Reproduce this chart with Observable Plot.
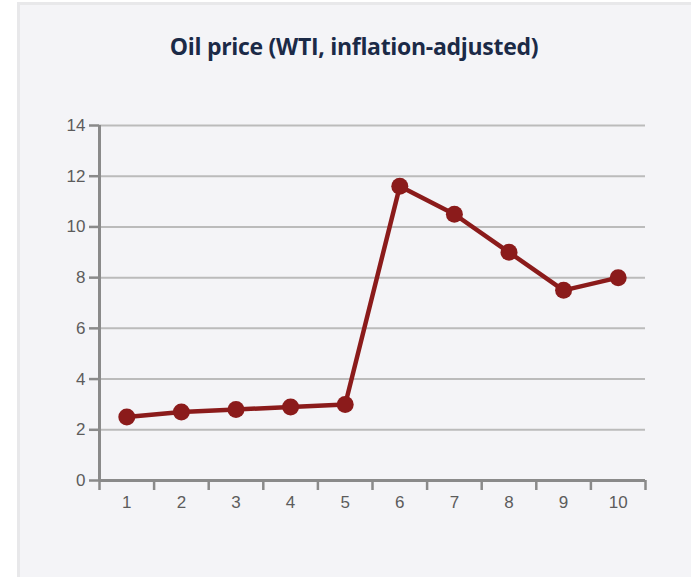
<!DOCTYPE html>
<html><head><meta charset="utf-8">
<script src="https://cdn.jsdelivr.net/npm/d3@7"></script>
<script src="https://cdn.jsdelivr.net/npm/@observablehq/plot@0.6"></script>
<style>
html,body{margin:0;padding:0;background:#fff;overflow:hidden;width:691px;height:577px;}
#panel{position:absolute;left:17px;top:2px;width:690px;height:600px;background:#f4f4f7;border:3px solid #e8e8ea;box-sizing:border-box;}
#title{position:absolute;left:17px;width:674px;top:30px;text-align:center;font:bold 23px 'Open Sans', sans-serif;color:#1b2a47;letter-spacing:-0.3px;}
#chart{position:absolute;left:0;top:80px;}
</style>
</head><body>
<div id="panel"></div>
<div id="title">Oil price (WTI, inflation-adjusted)</div>
<div id="chart"></div>
<script>
const periods = [1, 2, 3, 4, 5, 6, 7, 8, 9, 10];
const prices = [2.5, 2.7, 2.8, 2.9, 3.0, 11.6, 10.5, 9.0, 7.5, 8.0];
const yTicks = [0, 2, 4, 6, 8, 10, 12, 14];
const xBoundaries = [0.5, 1.5, 2.5, 3.5, 4.5, 5.5, 6.5, 7.5, 8.5, 9.5, 10.5];

const data = periods.map((p, i) => ({period: p, price: prices[i]}));
const axisGrey = "#8a8a8a";
const labelGrey = "#5c5c5c";
const red = "#8b1b1b";

const chart = Plot.plot({
  width: 691,
  height: 460,
  marginLeft: 99,
  marginRight: 46,
  marginTop: 45,
  marginBottom: 60,
  style: {background: "transparent", fontFamily: "'Liberation Sans', Arial, sans-serif", fontSize: "17px", overflow: "visible"},
  x: {type: "linear", domain: [0.5, 10.5], label: null},
  y: {domain: [0, 14], label: null},
  marks: [
    Plot.gridY(yTicks.filter(d => d > 0), {stroke: "#bbbbbb", strokeOpacity: 1, strokeWidth: 2}),
    Plot.axisY(yTicks, {tickSize: 10, text: null, label: null, stroke: axisGrey, strokeWidth: 2.5}),
    Plot.axisY(yTicks, {tickSize: 0, tickPadding: 14, label: null, fill: labelGrey, fontSize: 17}),
    Plot.axisX(xBoundaries, {tickSize: 10, text: null, label: null, stroke: axisGrey, strokeWidth: 2.5}),
    Plot.axisX(periods, {tickSize: 0, tickPadding: 15, label: null, fill: labelGrey, fontSize: 17}),
    Plot.ruleY([0], {stroke: axisGrey, strokeWidth: 3}),
    Plot.ruleX([xBoundaries[0]], {stroke: axisGrey, strokeWidth: 3}),
    Plot.line(data, {x: "period", y: "price", stroke: red, strokeWidth: 4.5}),
    Plot.dot(data, {x: "period", y: "price", r: 8.5, fill: red, stroke: "none"})
  ]
});
document.getElementById("chart").appendChild(chart);
</script>
</body></html>
